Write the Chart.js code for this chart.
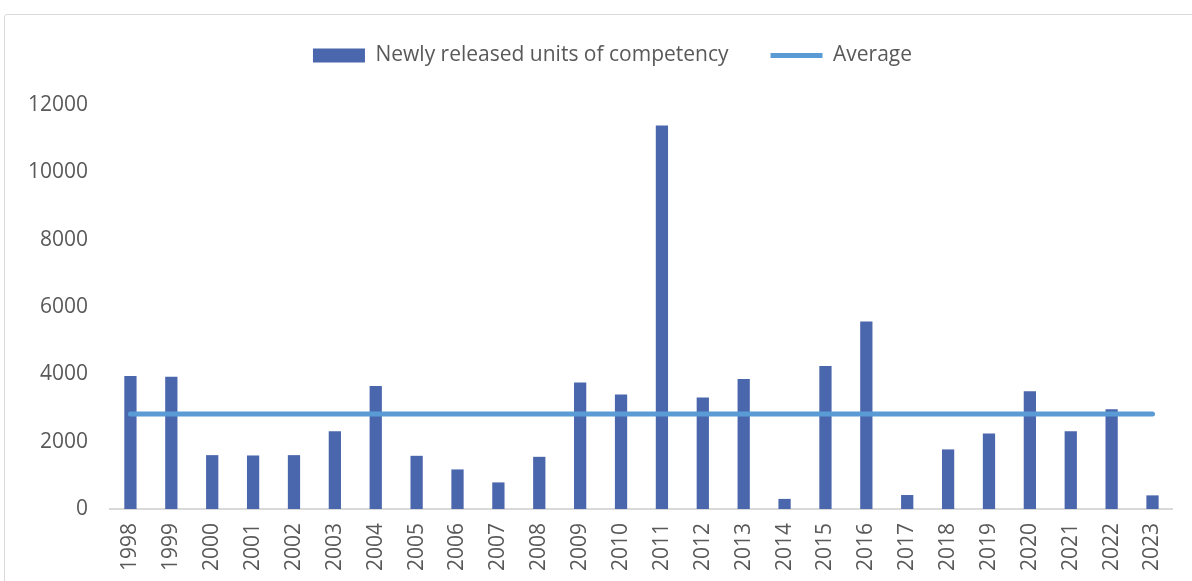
<!DOCTYPE html>
<html lang="en">
<head>
    <meta charset="UTF-8">
    <title>Newly released units of competency</title>
    <style>
        body {
            margin: 0;
            padding: 0;
            background-color: #ffffff;
            overflow: hidden;
        }
        #frame {
            position: absolute;
            left: 4px;
            top: 14px;
            width: 1220px;
            height: 620px;
            border: 1px solid #d9d9d9;
            border-radius: 3px;
        }
        #wrap {
            position: absolute;
            left: 0;
            top: 0;
            width: 1192px;
            height: 581px;
        }
    </style>
</head>
<body>
    <div id="frame"></div>
    <div id="wrap"><canvas id="myChart"></canvas></div>
    <script src="https://cdn.jsdelivr.net/npm/chart.js"></script>
    <script>
        const years = ['1998', '1999', '2000', '2001', '2002', '2003', '2004', '2005', '2006', '2007',
            '2008', '2009', '2010', '2011', '2012', '2013', '2014', '2015', '2016', '2017',
            '2018', '2019', '2020', '2021', '2022', '2023'];
        const newUnits = [3950, 3930, 1600, 1590, 1600, 2310, 3650, 1580, 1175, 790,
            1550, 3760, 3400, 11390, 3310, 3860, 300, 4250, 5570, 415,
            1770, 2240, 3500, 2310, 2960, 405];
        const average = 2825;
        const averageLine = years.map(() => average);
        const yTicks = [0, 2000, 4000, 6000, 8000, 10000, 12000];

        const textColor = '#595959';
        const font = { family: 'Open Sans', size: 21 };

        // legend: fixed height so the plot starts lower, and nudged right like the original
        const legendTweak = {
            id: 'legendTweak',
            afterInit(chart) {
                const fit = chart.legend.fit;
                chart.legend.fit = function () {
                    fit.call(this);
                    this.height = 102;
                };
            },
            afterLayout(chart) {
                chart.legend.left += 19;
                chart.legend.right += 19;
            }
        };

        const ctx = document.getElementById('myChart').getContext('2d');
        window.myChart = new Chart(ctx, {
            data: {
                labels: years,
                datasets: [{
                    type: 'line',
                    label: 'Average',
                    data: averageLine,
                    borderColor: '#5B9BD5',
                    backgroundColor: '#5B9BD5',
                    borderWidth: 5,
                    borderCapStyle: 'round',
                    pointRadius: 0,
                    pointStyle: 'line',
                    order: 0
                }, {
                    type: 'bar',
                    label: 'Newly released units of competency',
                    data: newUnits,
                    backgroundColor: '#4A66AC',
                    borderWidth: 0,
                    barPercentage: 0.3,
                    categoryPercentage: 1,
                    pointStyle: 'rect',
                    order: 1
                }]
            },
            plugins: [legendTweak],
            options: {
                responsive: true,
                maintainAspectRatio: false,
                animation: false,
                layout: { padding: { left: 10, right: 15, top: 3, bottom: 0 } },
                plugins: {
                    tooltip: { enabled: false },
                    legend: {
                        position: 'top',
                        reverse: true,
                        labels: {
                            usePointStyle: true,
                            pointStyleWidth: 52,
                            boxWidth: 52,
                            boxHeight: 14,
                            padding: 42,
                            color: textColor,
                            font: font
                        }
                    }
                },
                scales: {
                    x: {
                        grid: { display: false, drawTicks: false },
                        border: { display: true, color: '#d9d9d9', width: 2 },
                        ticks: {
                            color: textColor,
                            font: font,
                            minRotation: 90,
                            maxRotation: 90,
                            padding: 14,
                            autoSkip: false
                        },
                        afterFit: s => { s.height = 72; }
                    },
                    y: {
                        min: 0,
                        max: 12000,
                        grid: { display: false, drawTicks: false },
                        border: { display: false },
                        ticks: {
                            color: textColor,
                            font: font,
                            stepSize: 2000,
                            padding: 22,
                            callback: v => String(v)
                        },
                        afterBuildTicks: s => { s.ticks = yTicks.map(v => ({ value: v })); },
                        afterFit: s => { s.width = 100; }
                    }
                }
            }
        });
    </script>
</body>
</html>
